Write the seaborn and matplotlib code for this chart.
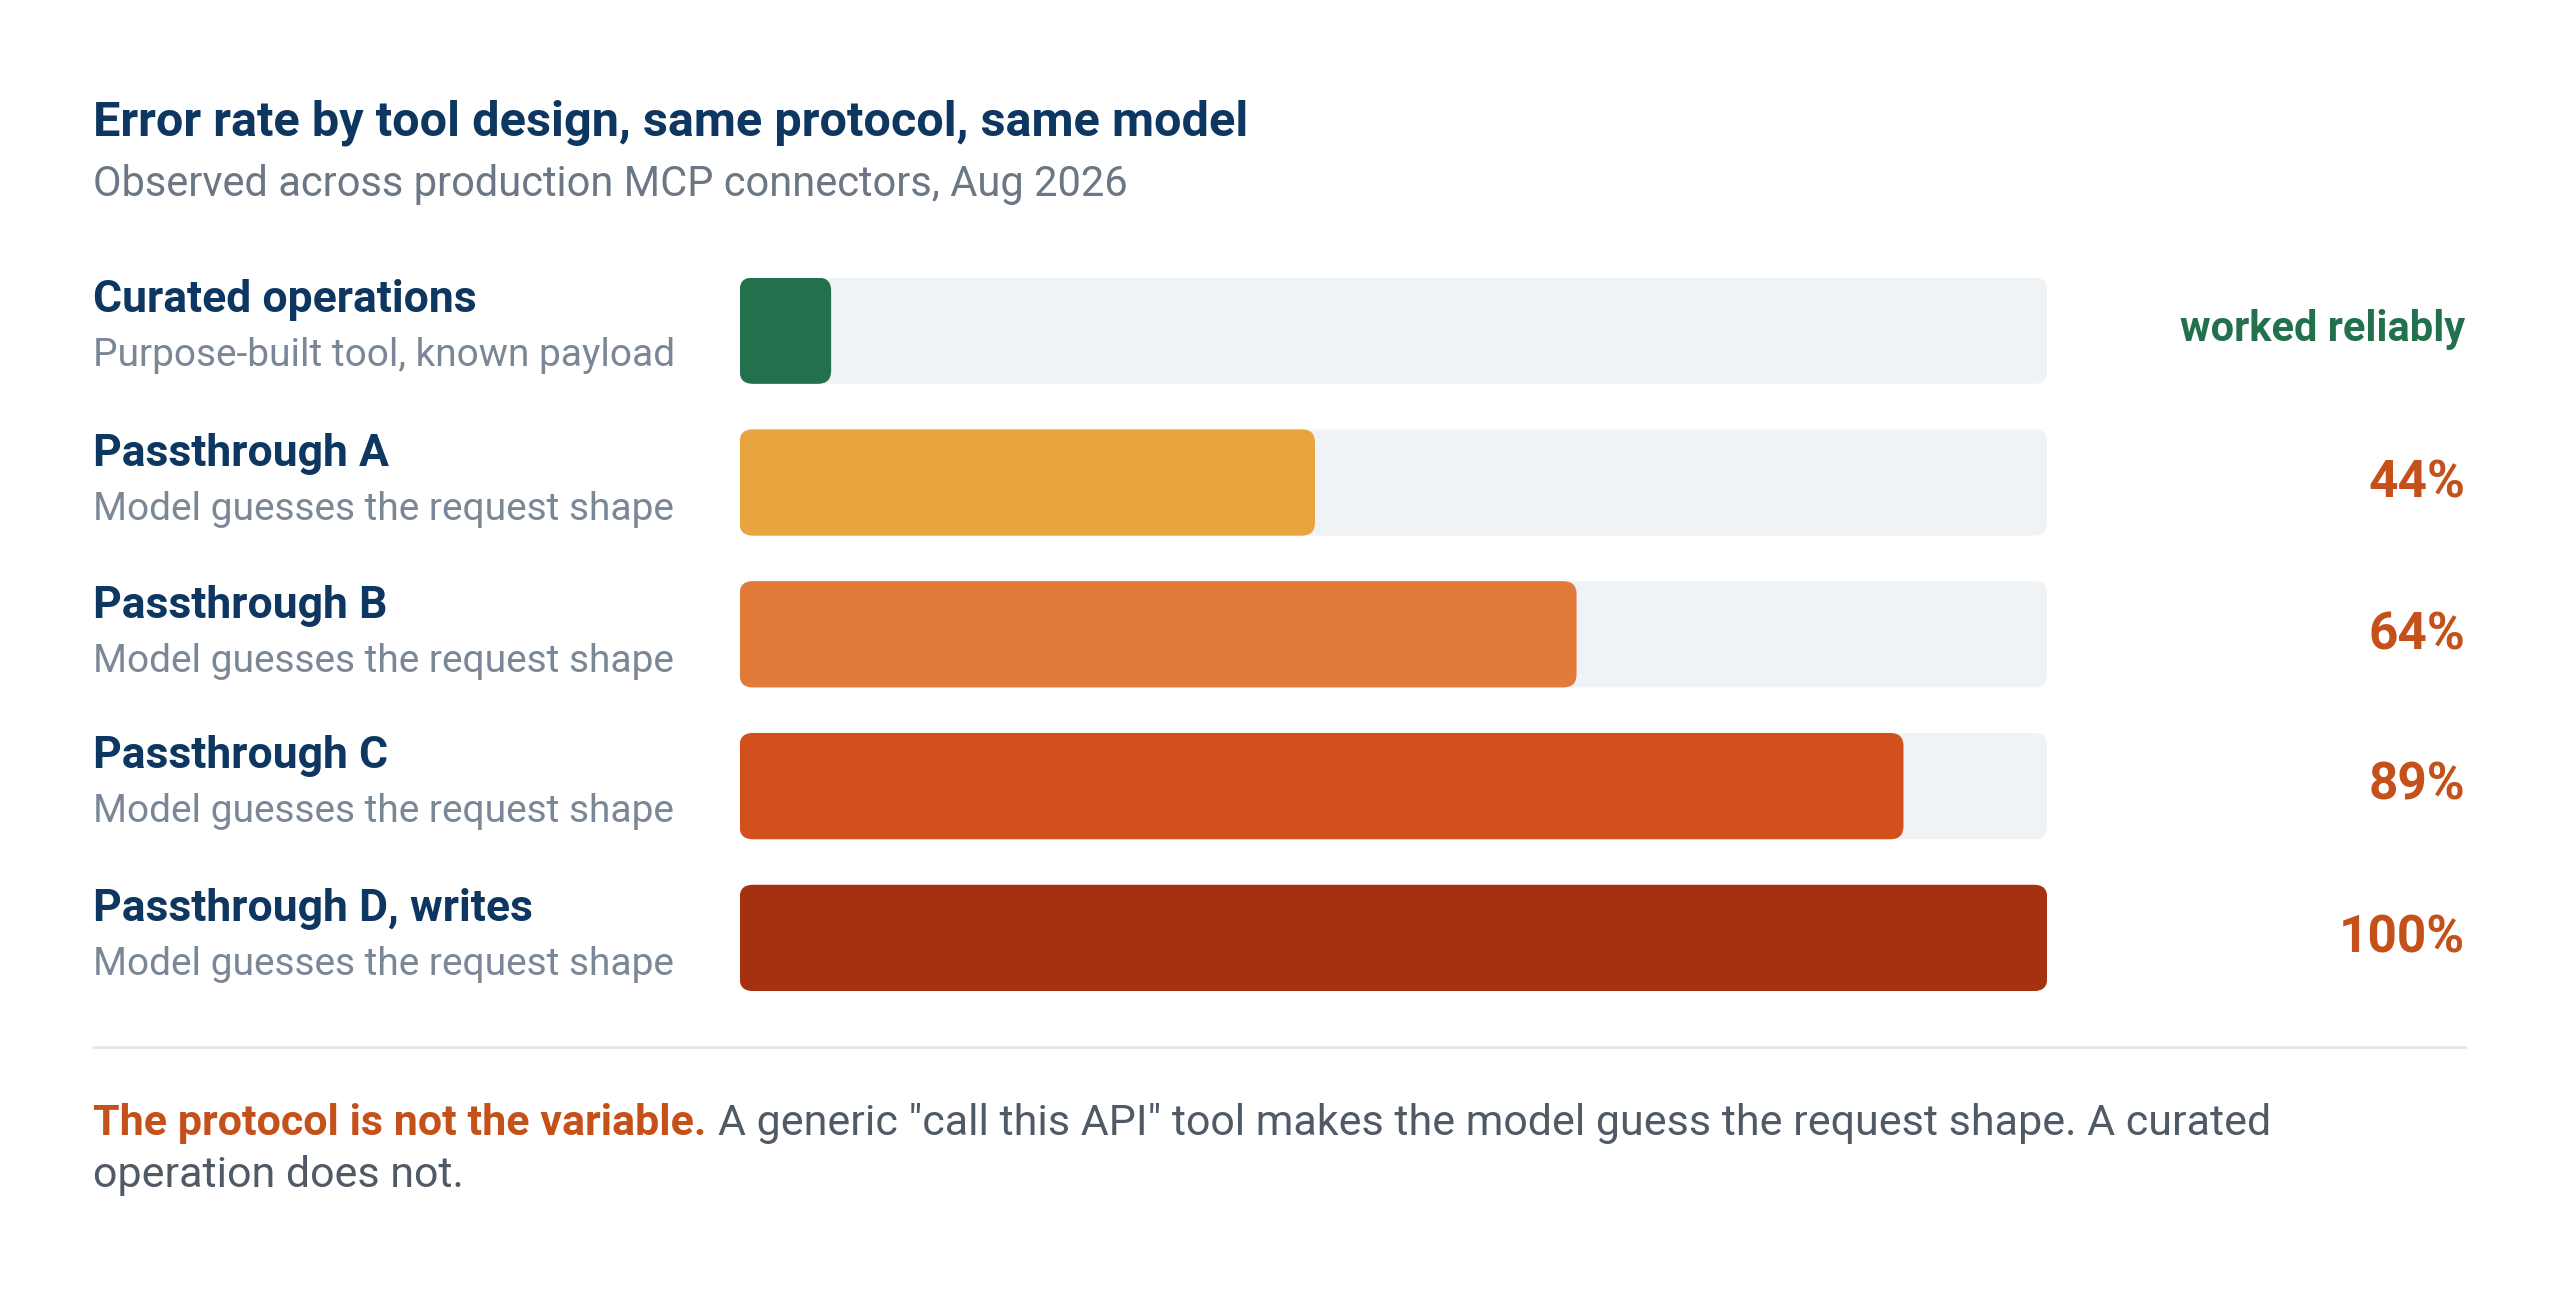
import matplotlib
matplotlib.use("Agg")
import matplotlib.pyplot as plt
import seaborn as sns
import pandas as pd
from matplotlib.patches import FancyBboxPatch
from matplotlib.lines import Line2D

names = ["Curated operations", "Passthrough A", "Passthrough B", "Passthrough C", "Passthrough D, writes"]
subs = ["Purpose-built tool, known payload", "Model guesses the request shape",
        "Model guesses the request shape", "Model guesses the request shape",
        "Model guesses the request shape"]
values = [7, 44, 64, 89, 100]
value_labels = ["worked reliably", "44%", "64%", "89%", "100%"]
colors = ["#23704d", "#e8a43e", "#e07b3a", "#d2501c", "#a63111"]
label_colors = ["#23704d", "#c4501a", "#c4501a", "#c4501a", "#c4501a"]

sns.set_theme(style="white")
plt.rcParams['font.family'] = ['Roboto', 'DejaVu Sans']

W, H = 1568, 795
fig = plt.figure(figsize=(25.6, 12.98), dpi=100)
fig.patch.set_facecolor("white")
ax = fig.add_axes([453 / W, 1 - 607 / H, 801 / W, 437 / H])

df = pd.DataFrame({"name": names, "value": values, "track": [100] * 5})
sns.barplot(data=df, y="name", x="track", color="#eff3f6", width=0.7, ax=ax,
            orient="h", saturation=1)
sns.barplot(data=df, y="name", x="value", hue="name", palette=colors, width=0.7,
            ax=ax, orient="h", legend=False, saturation=1)
ax.set_xlim(0, 100)
ax.set_ylim(4.35, -0.35)
ax.axis("off")

y_per_px = 4.7 / 437
x_per_px = 100 / 801
aspect = y_per_px / x_per_px
for p in list(ax.patches):
    x0, y0, w, h = p.get_x(), p.get_y(), p.get_width(), p.get_height()
    fc = p.get_facecolor()
    z = p.get_zorder()
    p.remove()
    ax.add_patch(FancyBboxPatch((x0, y0), w, h,
                                boxstyle="round,pad=0,rounding_size=1.0",
                                mutation_aspect=aspect, facecolor=fc,
                                edgecolor="none", zorder=z))

def fy(y):
    return 1 - y / H

navy = "#0d3660"
gray = "#7a8796"
fig.text(57 / W, fy(75), "Error rate by tool design, same protocol, same model",
         fontsize=35, fontweight="bold", color=navy, va="center")
fig.text(57 / W, fy(113), "Observed across production MCP connectors, Aug 2026",
         fontsize=30, color="#6b7785", va="center")

centers = [202, 296, 389, 481, 575]
for i, c in enumerate(centers):
    fig.text(57 / W, fy(c - 18), names[i], fontsize=32, fontweight="bold",
             color=navy, va="center")
    fig.text(57 / W, fy(c + 16), subs[i], fontsize=28, color=gray, va="center")
    fs = 30 if i == 0 else 37
    fig.text(1510 / W, fy(c), value_labels[i], fontsize=fs, fontweight="bold",
             color=label_colors[i], va="center", ha="right")

fig.add_artist(Line2D([57 / W, 1510 / W], [fy(641), fy(641)], color="#e3e7eb",
                      lw=2, transform=fig.transFigure))

t1 = fig.text(57 / W, fy(688), "The protocol is not the variable.", fontsize=31,
              fontweight="bold", color="#c4501a", va="center")
fig.canvas.draw()
bb = t1.get_window_extent()
fig.text(bb.x1 / fig.bbox.width + 7 / W, fy(688),
         'A generic "call this API" tool makes the model guess the request shape. A curated',
         fontsize=31, color="#505a66", va="center")
fig.text(57 / W, fy(720), "operation does not.", fontsize=31, color="#505a66", va="center")

fig.savefig("out.png", dpi=100, facecolor="white")
